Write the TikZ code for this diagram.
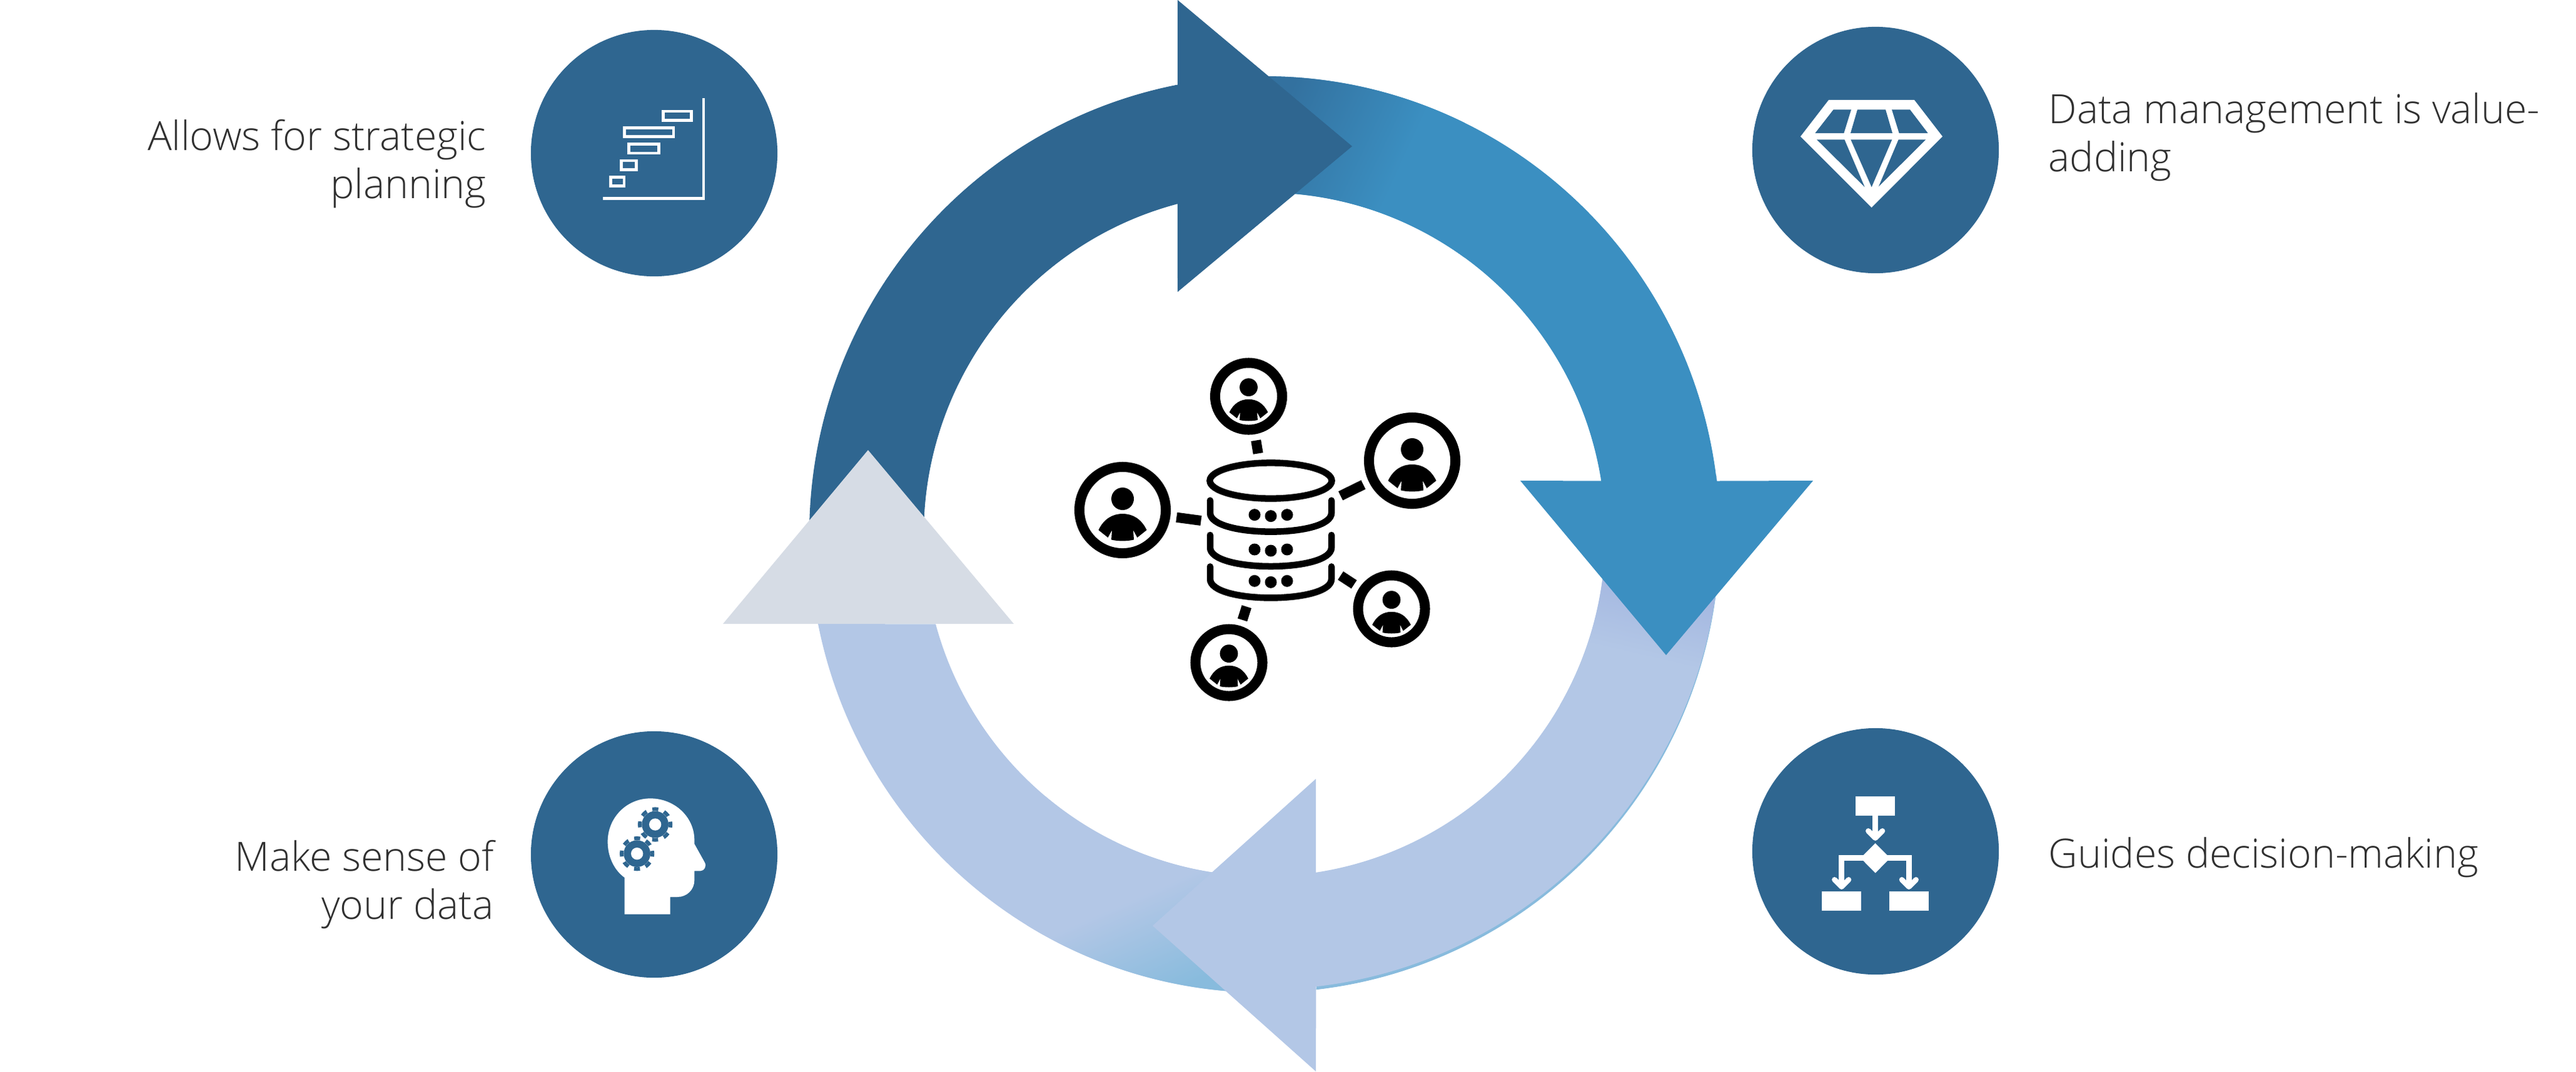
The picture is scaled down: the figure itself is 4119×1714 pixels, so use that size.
\documentclass[tikz,border=0pt]{standalone}
\usepackage{fontspec}
\setmainfont{Open Sans Light}

\definecolor{deepblue}{HTML}{2F6690}
\definecolor{midblue}{HTML}{3B8FC1}
\definecolor{startblue}{HTML}{33719F}
\definecolor{paleblue}{HTML}{B3C7E6}
\definecolor{startpale}{HTML}{A0B3DF}
\definecolor{palegrey}{HTML}{D6DCE5}
\definecolor{sliverblue}{HTML}{88BBDD}
\definecolor{textgrey}{HTML}{303030}

\pgfdeclarehorizontalshading{rampmid}{100bp}{color(0bp)=(startblue); color(25bp)=(startblue); color(58bp)=(midblue); color(100bp)=(midblue)}
\pgfdeclarehorizontalshading{ramppale}{100bp}{color(0bp)=(startpale); color(25bp)=(startpale); color(50bp)=(paleblue); color(100bp)=(paleblue)}
\pgfdeclarehorizontalshading{rampedge}{100bp}{color(0bp)=(sliverblue); color(25bp)=(sliverblue); color(49bp)=(paleblue); color(100bp)=(paleblue)}

\tikzset{
    iconball/.style={circle, fill=deepblue, minimum size=3.94cm, inner sep=0pt},
    caption/.style={text=textgrey, font=\fontsize{18.3}{21.9}\selectfont, inner sep=0pt},
    userring/.style={circle, draw=black, line width=0.16cm, inner sep=0pt, outer sep=0.18cm},
    linktick/.style={line width=0.16cm},
    dbline/.style={line width=0.105cm, line cap=round},
    iconline/.style={draw=white, line width=0.047cm},
    flowline/.style={draw=white, line width=0.09cm},
    flowtip/.style={draw=white, line width=0.085cm, line cap=round, line join=round},
    userface/.pic={
        \fill (0,-18) circle (18);
        \fill (-38.5,32) .. controls (-30,14) and (-16,6) .. (0,6) .. controls (16,6) and (30,14) .. (38.5,32)
            -- (23.4,44) -- (17,32) -- (18,47.4) .. controls (8,50) and (-8,50) .. (-18,47.4)
            -- (-17,32) -- (-23.4,44) -- cycle;
    },
    dbtier/.pic={
        \draw[dbline] (-97,0) -- (-97,20) .. controls (-97,39.5) and (-50,50) .. (0,50)
            .. controls (50,50) and (97,39.5) .. (97,20) -- (97,0);
        \fill (-26,23) circle (9.5);
        \fill (0,25) circle (9.5);
        \fill (26,23) circle (9.5);
    },
    gearwheel/.pic={
        \fill[deepblue] (0,0) circle (64);
        \draw[deepblue, line width=0.06cm, dash pattern=on 0.095cm off 0.0987cm, dash phase=0.0475cm] (0,0) circle (74);
        \fill[white] (0,0) circle (29);
    },
}

\begin{document}
\begin{tikzpicture}[x=0.01cm, y=-0.01cm]
    \useasboundingbox (0,0) rectangle (4119,1714);

    % Draw the cycle of four arrows
    \begin{scope}[shift={(2022,855)}]
        % Fourth arrow, its tail under the head of the third
        \fill[paleblue] (88:728 and 733) arc[start angle=88, end angle=168.75, x radius=728, y radius=733]
            -- (164.8:545 and 547) arc[start angle=164.8, end angle=88, x radius=545, y radius=547] -- cycle;
        \begin{scope}
            \clip (88:728 and 733) arc[start angle=88, end angle=130, x radius=728, y radius=733]
                -- (130:545 and 547) arc[start angle=130, end angle=88, x radius=545, y radius=547] -- cycle;
            \shade[shading=rampedge, shading angle=114] (-380,405) rectangle (-40,745);
        \end{scope}
        % Thin edge along the third arrow
        \fill[sliverblue] (-7:728 and 733) arc[start angle=-7, end angle=83.5, x radius=728, y radius=733]
            -- (81:600) arc[start angle=81, end angle=-9, radius=600] -- cycle;
        % Third arrow
        \fill[paleblue] (722.6,-94.3) arc[start angle=-7, end angle=83.5, x radius=728, y radius=733]
            -- (82,859) -- (-179,626) -- (82,391) -- (82,540.8)
            arc[start angle=81.35, end angle=-9, x radius=545, y radius=547] -- cycle;
        \begin{scope}
            \clip (722.6,-94.3) arc[start angle=-7, end angle=30, x radius=728, y radius=733]
                -- (30:545 and 547) arc[start angle=30, end angle=-9, x radius=545, y radius=547] -- cycle;
            \shade[shading=ramppale, shading angle=-103] (430,40) rectangle (730,340);
        \end{scope}
        % Second arrow
        \fill[midblue] (270:728 and 733) arc[start angle=270, end angle=353.3, x radius=728, y radius=733]
            -- (877,-86) -- (642,193) -- (409,-86) -- (351:545 and 547)
            arc[start angle=351, end angle=270, x radius=545, y radius=547] -- cycle;
        \begin{scope}
            \clip (270:728 and 733) arc[start angle=270, end angle=310, x radius=728, y radius=733]
                -- (310:545 and 547) arc[start angle=310, end angle=270, x radius=545, y radius=547] -- cycle;
            \shade[shading=rampmid, shading angle=-25] (0,-745) rectangle (320,-425);
        \end{scope}
        % First arrow
        \fill[deepblue] (180:728 and 733) arc[start angle=180, end angle=259, x radius=728, y radius=733]
            -- (-139,-855) -- (140,-621) -- (-139,-388) -- (255.2:545 and 547)
            arc[start angle=255.2, end angle=180, x radius=545, y radius=547] -- cycle;
        % Head of the fourth arrow
        \fill[palegrey] (-866,143) -- (-634,-135) -- (-401,143) -- cycle;
    \end{scope}

    % Draw the database in the middle
    \node[minimum width=2.05cm, minimum height=2.27cm, inner sep=0pt, outer sep=0.09cm] (db) at (2032,848) {};
    \draw[line width=0.105cm] (2032,769) ellipse [x radius=97.5, y radius=28.6];
    \pic at (2032,800.6) {dbtier};
    \pic at (2032,856) {dbtier};
    \pic at (2032,906.4) {dbtier};

    % Draw the users round the database
    \node[userring, minimum size=1.07cm] (usertop) at (1996.5,634) {};
    \node[userring, minimum size=1.38cm] (userright) at (2258,737) {};
    \node[userring, minimum size=1.38cm] (userleft) at (1795,816) {};
    \node[userring, minimum size=1.07cm] (userlow) at (2225,974) {};
    \node[userring, minimum size=1.07cm] (userbottom) at (1965,1060) {};
    \pic[scale=0.8] at (usertop) {userface};
    \pic at (userright) {userface};
    \pic at (userleft) {userface};
    \pic[scale=0.8] at (userlow) {userface};
    \pic[scale=0.8] at (userbottom) {userface};
    \draw[linktick] (usertop) -- (db);
    \draw[linktick] (userright) -- (db);
    \draw[linktick] (userleft) -- (db);
    \draw[linktick] (userlow) -- (db);
    \draw[linktick] (userbottom) -- (db);

    % Draw the four balls
    \node[iconball] (plan) at (1046,245) {};
    \node[iconball] (value) at (2999,240) {};
    \node[iconball] (guide) at (2999,1362) {};
    \node[iconball] (sense) at (1046,1367) {};

    % Bars of the planning chart
    \begin{scope}[shift={(820,30)}, scale=0.3333]
        \draw[iconline] (433,862) -- (915,862) -- (915,380);
        \draw[iconline] (722,444) rectangle (857,487);
        \draw[iconline] (535,523) rectangle (771,566);
        \draw[iconline] (556,602) rectangle (700,645);
        \draw[iconline] (521,681) rectangle (592,724);
        \draw[iconline] (470,760) rectangle (534,803);
    \end{scope}

    % Facets of the diamond
    \begin{scope}[shift={(2780,30)}, scale=0.3333]
        \fill[white] (432,390) -- (843,390) -- (978,565) -- (638,906) -- (297,565) -- cycle;
        \fill[deepblue] (455,436) -- (540,436) -- (505,549) -- (367,549) -- cycle;
        \fill[deepblue] (570,436) -- (705,436) -- (738,549) -- (537,549) -- cycle;
        \fill[deepblue] (735,436) -- (822,436) -- (908,549) -- (770,549) -- cycle;
        \fill[deepblue] (375,580) -- (508,580) -- (605,808) -- cycle;
        \fill[deepblue] (538,580) -- (736,580) -- (638,808) -- cycle;
        \fill[deepblue] (767,580) -- (898,580) -- (672,805) -- cycle;
    \end{scope}

    % Boxes and arrows of the flow chart
    \begin{scope}[shift={(2780,1150)}, scale=0.3333]
        \fill[white] (561,371) rectangle (749,465);
        \fill[white] (400,828) rectangle (589,922);
        \fill[white] (723,828) rectangle (911,922);
        \fill[white] (656,597) -- (727,668) -- (656,740) -- (585,668) -- cycle;
        \draw[flowline] (656,465) -- (656,570);
        \draw[flowline] (600,666) -- (494,666) -- (494,800);
        \draw[flowline] (712,666) -- (817,666) -- (817,800);
        \draw[flowtip] (622,538) -- (656,572) -- (690,538);
        \draw[flowtip] (460,772) -- (494,806) -- (528,772);
        \draw[flowtip] (783,772) -- (817,806) -- (851,772);
    \end{scope}

    % Head with two gears
    \begin{scope}[shift={(820,1150)}, scale=0.3333]
        \fill[white] (536,762) .. controls (485,725) and (455,660) .. (455,590)
            .. controls (455,475) and (545,382) .. (660,382)
            .. controls (775,382) and (870,470) .. (871,580) -- (871,600) -- (920,688)
            .. controls (932,708) and (918,730) .. (900,730) -- (871,730) -- (871,775)
            .. controls (871,820) and (835,855) .. (790,855) -- (755,855) -- (755,938) -- (536,938) -- cycle;
        \pic[transform shape] at (683,507) {gearwheel};
        \pic[transform shape] at (596,647) {gearwheel};
    \end{scope}

    % Write the captions
    \node[caption, anchor=east, align=right] (plantext) at (778,262) {Allows for strategic\\planning};
    \node[caption, anchor=west, align=left] (valuetext) at (3275,219) {Data management is value-\\adding};
    \node[caption, anchor=west] (guidetext) at (3275,1372) {Guides decision-making};
    \node[caption, anchor=east, align=right] (sensetext) at (790,1415) {Make sense of\\your data};
\end{tikzpicture}
\end{document}
